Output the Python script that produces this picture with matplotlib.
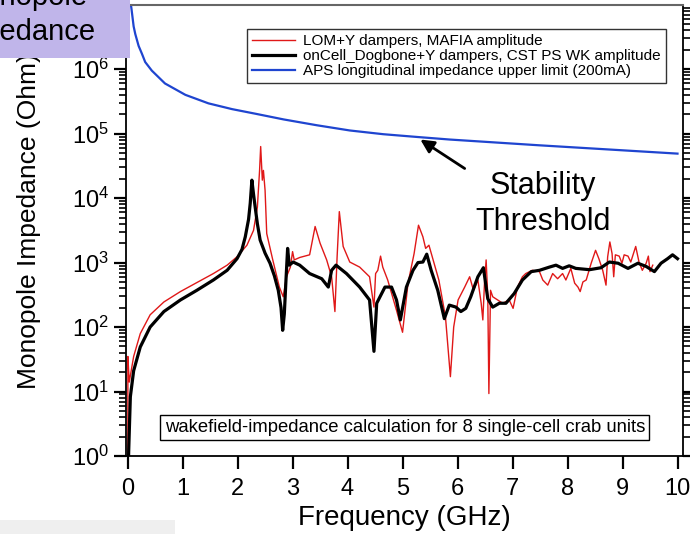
import matplotlib
matplotlib.use("Agg")
import matplotlib.pyplot as plt
from matplotlib.patches import Rectangle
from matplotlib.ticker import FixedLocator, NullLocator, NullFormatter

plt.rcParams['font.family'] = ['Liberation Sans', 'DejaVu Sans']

# LOM+Y dampers, MAFIA amplitude (GHz, Ohm)
lom_freq = [0.005, 0.005, 0.03, 0.11, 0.23, 0.41, 0.66, 0.96, 1.26, 1.56, 1.81, 1.99,
            2.17, 2.29, 2.36, 2.40, 2.42, 2.45, 2.47, 2.50, 2.53, 2.64, 2.76, 2.83,
            2.89, 2.96, 3.00, 3.03, 3.13, 3.31, 3.41, 3.50, 3.62, 3.71, 3.77, 3.81,
            3.85, 3.92, 4.04, 4.22, 4.40, 4.48, 4.51, 4.55, 4.60, 4.64, 4.73, 4.89,
            5.00, 5.10, 5.21, 5.29, 5.37, 5.42, 5.48, 5.54, 5.66, 5.78, 5.87, 5.93,
            6.01, 6.13, 6.22, 6.29, 6.37, 6.43, 6.46, 6.49, 6.52, 6.55, 6.57, 6.60,
            6.64, 6.73, 6.82, 6.94, 7.01, 7.09, 7.18, 7.24, 7.36, 7.49, 7.55, 7.64,
            7.73, 7.82, 7.91, 7.97, 8.06, 8.13, 8.19, 8.23, 8.28, 8.34, 8.43, 8.51,
            8.57, 8.64, 8.70, 8.73, 8.77, 8.81, 8.84, 8.87, 8.94, 8.99, 9.03, 9.10,
            9.15, 9.24, 9.30, 9.36, 9.43, 9.47, 9.50, 9.55]
lom_imp = [0.8, 35, 14, 35, 79, 155, 245, 355, 490, 676, 912, 1230,
           1860, 3160, 7240, 26900, 63100, 19000, 26900, 13200, 2820, 1100, 417, 295,
           603, 851, 1480, 1100, 1200, 1320, 3630, 2000, 1100, 603, 174, 1230,
           6170, 1780, 1020, 851, 603, 204, 676, 759, 1260, 851, 537, 182,
           83, 479, 1380, 3800, 2510, 1660, 1860, 1230, 537, 145, 17, 100,
           263, 417, 603, 372, 537, 234, 129, 479, 1100, 295, 9.3, 372,
           295, 263, 234, 263, 195, 417, 603, 676, 759, 724, 537, 447,
           676, 562, 676, 537, 813, 479, 417, 355, 501, 537, 977, 1550,
           1150, 759, 447, 1230, 2090, 1380, 603, 1320, 1260, 977, 1320, 1260,
           1020, 1780, 1020, 759, 977, 1260, 724, 912]

# onCell_Dogbone+Y dampers, CST PS WK amplitude
dog_freq = [0.01, 0.02, 0.05, 0.11, 0.23, 0.41, 0.66, 0.96, 1.26, 1.56, 1.81, 1.99,
            2.08, 2.14, 2.20, 2.23, 2.26, 2.29, 2.32, 2.36, 2.41, 2.50, 2.59, 2.67,
            2.74, 2.79, 2.82, 2.85, 2.88, 2.91, 2.94, 3.01, 3.13, 3.31, 3.53, 3.65,
            3.71, 3.79, 3.98, 4.22, 4.40, 4.48, 4.53, 4.68, 4.80, 4.89, 4.96, 5.07,
            5.19, 5.28, 5.37, 5.44, 5.52, 5.64, 5.76, 5.85, 5.97, 6.06, 6.15, 6.24,
            6.37, 6.47, 6.55, 6.64, 6.76, 6.88, 7.03, 7.18, 7.34, 7.49, 7.67, 7.79,
            7.91, 8.03, 8.15, 8.40, 8.61, 8.76, 8.92, 9.10, 9.28, 9.43, 9.58, 9.70,
            9.82, 9.91, 10.0]
dog_imp = [0.5, 1.2, 8.3, 21, 49, 100, 174, 263, 372, 537, 759, 1150,
           1600, 2510, 4700, 8320, 19000, 11500, 7240, 4000, 2240, 1400, 977, 620,
           372, 200, 89, 160, 537, 1660, 912, 1020, 912, 676, 562, 417,
           759, 912, 676, 417, 263, 42, 234, 417, 417, 263, 129, 417,
           759, 1000, 1020, 1350, 759, 372, 135, 219, 204, 174, 195, 295,
           603, 832, 275, 204, 234, 234, 331, 537, 724, 759, 851, 912,
           813, 891, 813, 776, 832, 1020, 977, 813, 977, 871, 724, 977,
           1150, 1320, 1150]

# APS longitudinal impedance upper limit (200mA)
aps_freq = [0.06, 0.07, 0.11, 0.14, 0.20, 0.26, 0.32, 0.44, 0.68, 1.05, 1.47, 1.90,
            2.32, 2.84, 3.44, 4.04, 4.65, 5.25, 5.86, 7.48, 10.0]
aps_imp = [1.0e7, 8.7e6, 4.6e6, 3.5e6, 2.3e6, 1.74e6, 1.29e6, 9.5e5, 6.0e5, 4.0e5,
           2.95e5, 2.4e5, 2.04e5, 1.66e5, 1.35e5, 1.12e5, 9.8e4, 8.9e4, 8.1e4,
           6.6e4, 4.9e4]

W, H = 690, 534
fig = plt.figure(figsize=(6.9, 5.34), dpi=100)
ax = fig.add_axes([126.5 / W, 1 - 456 / H, (683 - 126.5) / W, (456 - 4.7) / H])

ax.plot(lom_freq, lom_imp, color='#e01818', lw=1.0,
        label='LOM+Y dampers, MAFIA amplitude')
ax.plot(dog_freq, dog_imp, color='black', lw=2.3,
        label='onCell_Dogbone+Y dampers, CST PS WK amplitude')
ax.plot(aps_freq, aps_imp, color='#1f45d0', lw=1.6,
        label='APS longitudinal impedance upper limit (200mA)')

ax.set_yscale('log')
ax.set_xlim(-0.02, 10.1)
ax.set_ylim(1, 1e7)
ax.set_xticks(range(0, 11))
ax.set_yticks([10.0 ** d for d in range(0, 7)])
ax.xaxis.set_minor_locator(NullLocator())
ax.yaxis.set_minor_locator(FixedLocator([k * 10.0 ** d for d in range(0, 7) for k in range(2, 10)]))
ax.yaxis.set_minor_formatter(NullFormatter())
ax.tick_params(which='major', direction='out', length=9, width=1.6, color='black',
               labelsize=17)
ax.tick_params(which='minor', direction='out', length=5, width=1.2, color='black')
ax.tick_params(axis='y', which='both', left=True, right=True)
ax.tick_params(axis='x', pad=7)
ax.spines['top'].set_color('#666666')
ax.spines['top'].set_linewidth(1.5)
for s in ['left', 'right', 'bottom']:
    ax.spines[s].set_linewidth(1.3)

ax.set_xlabel('Frequency (GHz)', fontsize=20)
ax.set_ylabel('Monopole Impedance (Ohm)', fontsize=19)
ax.xaxis.set_label_coords(0.5, -0.108)
ax.yaxis.set_label_coords(-0.153, 0.52)

leg = ax.legend(loc='upper left', bbox_to_anchor=(247 / W, 1 - 29 / H),
                bbox_transform=fig.transFigure, fontsize=11, frameon=True,
                fancybox=False, edgecolor='black', borderaxespad=0,
                handlelength=2.8, handletextpad=0.5, labelspacing=0.05,
                borderpad=0.35)
leg.get_frame().set_linewidth(1.0)

ax.text(0.5, 0.063, 'wakefield-impedance calculation for 8 single-cell crab units',
        transform=ax.transAxes, ha='center', va='center', fontsize=13.3,
        bbox=dict(boxstyle='square,pad=0.22', fc='white', ec='black', lw=1.0))

# Stability threshold arrow
ax.annotate('', xy=(418 / W, 1 - 138 / H), xycoords='figure fraction',
            xytext=(467 / W, 1 - 170 / H), textcoords='figure fraction',
            arrowprops=dict(arrowstyle='-|>,head_length=0.8,head_width=0.4',
                            color='black', lw=2))
fig.text(543 / W, 1 - 204 / H, 'Stability\nThreshold', ha='center', va='center',
         fontsize=22, linespacing=1.3)

# overlapping slide label box (top-left)
fig.add_artist(Rectangle((0, 1 - 58 / H), 130 / W, 58 / H, transform=fig.transFigure,
                         facecolor='#c0b5ea', edgecolor='none', zorder=10))
fig.text(23.5 / W, 1 - 5 / H, 'Monopole', ha='center', va='baseline', fontsize=21,
         zorder=11)
fig.text(23.5 / W, 1 - 40 / H, 'Impedance', ha='center', va='baseline', fontsize=21,
         zorder=11)
fig.add_artist(Rectangle((0, 0), 175 / W, 14 / H, transform=fig.transFigure,
                         facecolor='#efefef', edgecolor='none', zorder=10))

fig.savefig('out.png', dpi=100)
